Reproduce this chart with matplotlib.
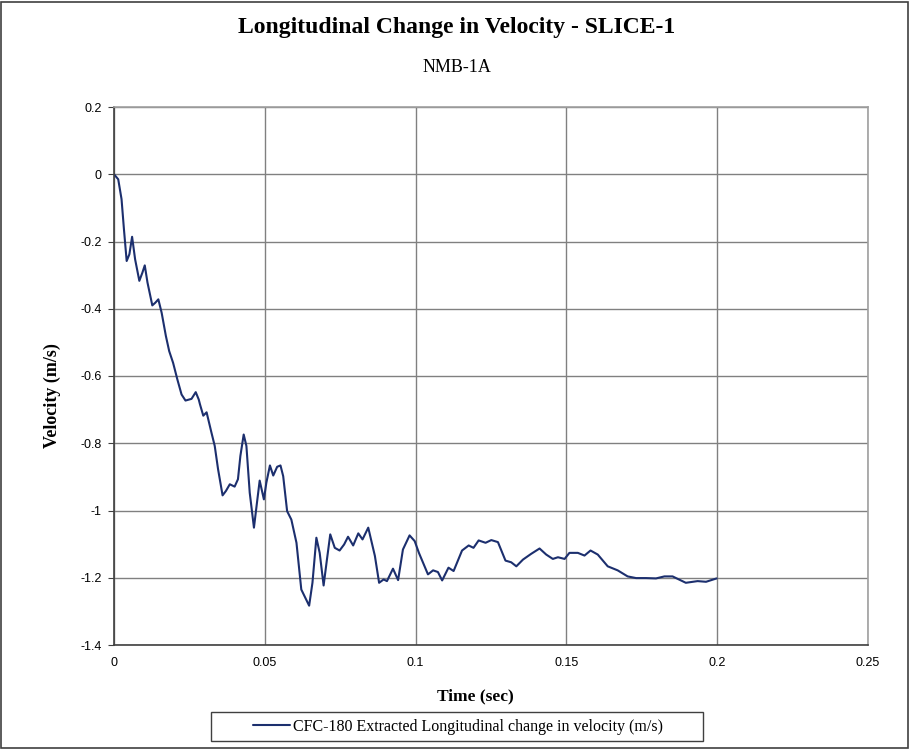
import matplotlib.pyplot as plt
from matplotlib.patches import Rectangle

# time (sec) and velocity (m/s)
time_s = [0.0, 0.0014, 0.0025, 0.0033, 0.0042, 0.0051, 0.006, 0.007, 0.0084,
          0.0094, 0.0102, 0.0111, 0.0127, 0.0137, 0.0147, 0.0158, 0.0172, 0.0183,
          0.0196, 0.021, 0.0224, 0.0237, 0.0257, 0.0271, 0.0281, 0.0285, 0.0296,
          0.0307, 0.0323, 0.0334, 0.0345, 0.036, 0.0371, 0.0384, 0.04, 0.0411,
          0.0419, 0.043, 0.0439, 0.045, 0.0464, 0.0474, 0.0483, 0.0497, 0.0505,
          0.0517, 0.0528, 0.0541, 0.0552, 0.0561, 0.0574, 0.0588, 0.0605, 0.0621,
          0.0647, 0.0658, 0.0671, 0.0682, 0.0695, 0.0706, 0.0717, 0.0732, 0.0748,
          0.0763, 0.0776, 0.0793, 0.081, 0.0824, 0.0843, 0.0865, 0.0879, 0.0894,
          0.0905, 0.0925, 0.0942, 0.0958, 0.098, 0.0997, 0.1011, 0.1041, 0.1058,
          0.1074, 0.1088, 0.1109, 0.1126, 0.1154, 0.1176, 0.1192, 0.1209, 0.1232,
          0.1251, 0.1273, 0.1298, 0.1317, 0.1334, 0.1356, 0.1383, 0.1411, 0.1433,
          0.1455, 0.1472, 0.1494, 0.151, 0.1538, 0.156, 0.158, 0.1604, 0.1637,
          0.167, 0.1703, 0.1731, 0.1764, 0.1797, 0.1825, 0.1852, 0.1896, 0.1935,
          0.1963, 0.1998]
velocity = [0.0, -0.015, -0.074, -0.164, -0.258, -0.238, -0.186, -0.253, -0.317,
            -0.293, -0.271, -0.322, -0.390, -0.382, -0.372, -0.412, -0.481, -0.526,
            -0.561, -0.610, -0.655, -0.673, -0.668, -0.648, -0.670, -0.684, -0.718,
            -0.708, -0.768, -0.808, -0.877, -0.955, -0.942, -0.922, -0.929, -0.907,
            -0.838, -0.774, -0.808, -0.947, -1.051, -0.977, -0.911, -0.967, -0.918,
            -0.866, -0.896, -0.870, -0.866, -0.898, -1.002, -1.027, -1.096, -1.235,
            -1.283, -1.215, -1.081, -1.126, -1.223, -1.146, -1.071, -1.111, -1.119,
            -1.101, -1.078, -1.104, -1.068, -1.086, -1.051, -1.135, -1.215, -1.205,
            -1.210, -1.173, -1.207, -1.116, -1.074, -1.091, -1.126, -1.190, -1.178,
            -1.183, -1.208, -1.170, -1.180, -1.119, -1.104, -1.111, -1.089, -1.096,
            -1.088, -1.094, -1.149, -1.154, -1.166, -1.146, -1.129, -1.113, -1.131,
            -1.144, -1.139, -1.144, -1.126, -1.126, -1.134, -1.119, -1.131, -1.166,
            -1.178, -1.196, -1.201, -1.201, -1.202, -1.196, -1.196, -1.215, -1.210,
            -1.212, -1.202]

x_ticks = [0, 0.05, 0.1, 0.15, 0.2, 0.25]
x_tick_labels = ["0", "0.05", "0.1", "0.15", "0.2", "0.25"]
y_ticks = [0.2, 0, -0.2, -0.4, -0.6, -0.8, -1.0, -1.2, -1.4]
y_tick_labels = ["0.2", "0", "-0.2", "-0.4", "-0.6", "-0.8", "-1", "-1.2", "-1.4"]

SERIF = "Liberation Serif"
SANS = "Liberation Sans"
W, H = 913, 751

fig = plt.figure(figsize=(W / 100, H / 100), dpi=100)
fig.patches.append(Rectangle((0.001, 0.004), 0.994, 0.994, transform=fig.transFigure,
                             fill=False, edgecolor="#404040", linewidth=1.2))

ax = fig.add_axes([114 / W, 106 / H, 754 / W, 538 / H])
line, = ax.plot(time_s, velocity, color="#1c2f6e", linewidth=1.5,
                solid_joinstyle="round", solid_capstyle="round")

ax.set_xlim(0, 0.25)
ax.set_ylim(-1.4, 0.2)
ax.set_xticks(x_ticks)
ax.set_xticklabels(x_tick_labels, fontfamily=SANS, fontsize=9)
ax.set_yticks(y_ticks)
ax.set_yticklabels(y_tick_labels, fontfamily=SANS, fontsize=9)
ax.tick_params(axis="x", length=0, pad=9)
ax.tick_params(axis="y", length=4, direction="out", color="#404040", pad=5)

ax.grid(True, color="#808080", linewidth=1.0)
ax.set_axisbelow(True)
for side in ("top", "right"):
    ax.spines[side].set_color("#a0a0a0")
ax.spines["left"].set_color("#404040")
ax.spines["bottom"].set_color("#404040")
for sp in ax.spines.values():
    sp.set_linewidth(1.2)

ax.set_xlabel("Time (sec)", fontfamily=SERIF, fontsize=12.5, fontweight="bold")
ax.xaxis.set_label_coords((475 - 114) / 754, -(695 - 644) / 538)
ax.xaxis.label.set_va("center")
ax.set_ylabel("Velocity (m/s)", fontfamily=SERIF, fontsize=13, fontweight="bold")
ax.yaxis.set_label_coords(-(114 - 52) / 754, (644 - 395) / 538)
ax.yaxis.label.set_va("center")

fig.text(0.5, 1 - 28 / H, "Longitudinal Change in Velocity - SLICE-1", ha="center",
         va="center", fontfamily=SERIF, fontsize=17, fontweight="bold")
fig.text(0.5, 1 - 68 / H, "NMB-1A", ha="center", va="center",
         fontfamily=SERIF, fontsize=13)

# legend box drawn by hand so the padding matches the reference
fig.patches.append(Rectangle((211 / W, 1 - 741 / H), 492 / W, 29 / H,
                             transform=fig.transFigure, fill=False,
                             edgecolor="#404040", linewidth=1.0))
leg = ax.legend([line], ["CFC-180 Extracted Longitudinal change in velocity (m/s)"],
                loc="center", bbox_to_anchor=(458 / W, 1 - 727 / H),
                bbox_transform=fig.transFigure, frameon=False,
                prop={"family": SERIF, "size": 11.5}, handlelength=2.3,
                handletextpad=0.15, borderpad=0, borderaxespad=0)

fig.savefig("out.png", dpi=100)
